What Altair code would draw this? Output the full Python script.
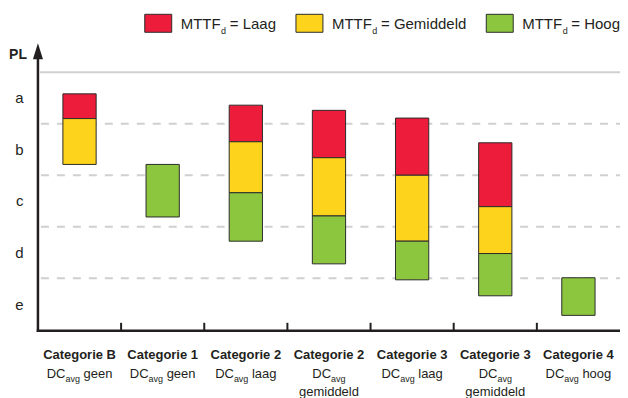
import json
import altair as alt
import pandas as pd

# ---------------- data ----------------
categories = ["Categorie B", "Categorie 1", "Categorie 2", "Categorie 2",
              "Categorie 3", "Categorie 3", "Categorie 4"]
dc_levels = ["geen", "geen", "laag", "gemiddeld", "laag", "gemiddeld", "hoog"]

# PL scale: 0 = bottom of "e", 5 = top of "a"
laag_lo = [4.10, None, 3.65, 3.34, 3.00, 2.39, None]
laag_hi = [4.58, None, 4.36, 4.26, 4.11, 3.63, None]
gem_lo = [3.21, None, 2.66, 2.21, 1.72, 1.48, None]
gem_hi = [4.10, None, 3.65, 3.34, 3.00, 2.39, None]
hoog_lo = [None, 2.19, 1.72, 1.28, 0.97, 0.66, 0.28]
hoog_hi = [None, 3.21, 2.66, 2.21, 1.72, 1.48, 1.01]

pl_levels = ["a", "b", "c", "d", "e"]
mttf_labels = ["Laag", "Gemiddeld", "Hoog"]
mttf_colors = ["#ED1C3A", "#FDD31B", "#8CC63F"]

# ---------------- layout ----------------
W, H = 583, 258
N = len(categories)
UNIT = W / N
NL = len(pl_levels)
INK = "#231f20"
GRID = "#d0d0d0"
FONT = "Liberation Sans"

AW = {" ": 278, "=": 584, "D": 722, "C": 722, "M": 833, "T": 611, "F": 611,
      "L": 556, "G": 778, "H": 722, "a": 556, "d": 556, "e": 556, "g": 556,
      "h": 556, "i": 222, "l": 222, "m": 833, "n": 556, "o": 556, "v": 500}
BW = {" ": 278, "C": 722, "a": 556, "t": 333, "e": 556, "g": 611, "o": 611,
      "r": 389, "i": 278, "B": 722, "1": 556, "2": 556, "3": 556, "4": 556}


def tw(s, size, bold=False):
    tab = BW if bold else AW
    return sum(tab.get(ch, 556) for ch in s) * size / 1000.0


# ---------------- tables built from the lists ----------------
rows = []
for i in range(N):
    for name, lo, hi in (("Laag", laag_lo, laag_hi), ("Gemiddeld", gem_lo, gem_hi),
                         ("Hoog", hoog_lo, hoog_hi)):
        if lo[i] is not None:
            rows.append(dict(idx=i, mttf=name, lo=lo[i], hi=hi[i]))
bars_df = pd.DataFrame(rows)

xs = alt.Scale(domain=[0, N], nice=False, zero=False)
ys = alt.Scale(domain=[0, NL], nice=False, zero=False)

FS, SUB = 13, 9
line1 = pd.DataFrame({"t": categories, "x": [i + 0.5 for i in range(N)]})
main_rows, sub_rows, l3_rows = [], [], []
for i, lvl in enumerate(dc_levels):
    c = (i + 0.5) * UNIT
    w_dc, w_avg = tw("DC", FS), tw("avg", SUB)
    if lvl == "gemiddeld":
        start = c - (w_dc + w_avg) / 2
        main_rows.append(dict(t="DC", x=start / UNIT))
        sub_rows.append(dict(t="avg", x=(start + w_dc) / UNIT))
        l3_rows.append(dict(t=lvl, x=i + 0.5))
    else:
        total = w_dc + w_avg + tw(" " + lvl, FS)
        start = c - total / 2
        main_rows.append(dict(t="DC", x=start / UNIT))
        sub_rows.append(dict(t="avg", x=(start + w_dc) / UNIT))
        main_rows.append(dict(t=lvl, x=(start + w_dc + w_avg + tw(" ", FS)) / UNIT))
main_df, sub_df, l3_df = pd.DataFrame(main_rows), pd.DataFrame(sub_rows), pd.DataFrame(l3_rows)

# legend pieces: box, "MTTF", subscript "d", "= <label>"
LF, LSUB, BOXW, GAP, IGAP = 15, 9, 27, 9, 20
items = []
for lab in mttf_labels:
    rest = "= " + lab
    w = BOXW + GAP + tw("MTTF", LF) + tw("d", LSUB) + tw(" ", LF) + tw(rest, LF)
    items.append((lab, w, rest))
total_leg = sum(w for _, w, _ in items) + IGAP * (len(items) - 1)
pos = W - total_leg
leg_box, leg_main, leg_sub = [], [], []
for lab, w, rest in items:
    leg_box.append(dict(mttf=lab, x0=pos / UNIT, x1=(pos + BOXW) / UNIT))
    tx = pos + BOXW + GAP
    leg_main.append(dict(t="MTTF", x=tx / UNIT))
    leg_sub.append(dict(t="d", x=(tx + tw("MTTF", LF) + 0.5) / UNIT))
    leg_main.append(dict(t=rest, x=(tx + tw("MTTF", LF) + tw("d", LSUB) + tw(" ", LF)) / UNIT))
    pos += w + IGAP
leg_box_df, leg_main_df, leg_sub_df = pd.DataFrame(leg_box), pd.DataFrame(leg_main), pd.DataFrame(leg_sub)

one = pd.DataFrame({"k": [0]})
color = alt.Color("mttf:N", scale=alt.Scale(domain=mttf_labels, range=mttf_colors), legend=None)

# ---------------- layers ----------------
grid = alt.Chart(pd.DataFrame({"v": list(range(1, NL))})).mark_rule(
    color=GRID, strokeWidth=2, strokeDash=[8, 8]).encode(
    y=alt.Y("v:Q", scale=ys), x=alt.value(3), x2=alt.value(W))
top = alt.Chart(pd.DataFrame({"v": [NL]})).mark_rule(color=GRID, strokeWidth=2).encode(
    y=alt.Y("v:Q", scale=ys), x=alt.value(2), x2=alt.value(W))

bars = alt.Chart(bars_df).transform_calculate(
    x0="datum.idx + 0.3", x1="datum.idx + 0.7").mark_rect(
    stroke="#2b2b2b", strokeWidth=1).encode(
    x=alt.X("x0:Q", scale=xs, axis=None), x2="x1:Q",
    y=alt.Y("lo:Q", scale=ys, title=None, axis=alt.Axis(
        values=[k + 0.5 for k in range(NL)],
        labelExpr=json.dumps(pl_levels[::-1]) + "[floor(datum.value)]",
        domain=False, ticks=False, grid=False, labelPadding=15,
        labelFontSize=15, labelFont=FONT, labelColor=INK)),
    y2="hi:Q", color=color)

yaxis = alt.Chart(one).mark_rule(color=INK, strokeWidth=2.5).encode(
    x=alt.value(0), y=alt.value(-15), y2=alt.value(H + 2.25))
xaxis = alt.Chart(one).mark_rule(color=INK, strokeWidth=2.5).encode(
    x=alt.value(-1.25), x2=alt.value(W), y=alt.value(H + 1))
arrow = alt.Chart(one).mark_point(
    shape="M0,-1L0.625,1L-0.625,1Z", size=256, filled=True, color=INK, opacity=1,
    strokeWidth=0).encode(x=alt.value(0), y=alt.value(-21))
pl = alt.Chart(one).mark_text(text="PL", align="right", baseline="alphabetic",
                              fontWeight="bold", fontSize=14, font=FONT, color=INK).encode(
    x=alt.value(-11), y=alt.value(-13))
ticks = alt.Chart(pd.DataFrame({"b": list(range(1, N))})).mark_rule(
    color=INK, strokeWidth=2).encode(
    x=alt.X("b:Q", scale=xs), y=alt.value(H - 7), y2=alt.value(H + 2))

lab1 = alt.Chart(line1).mark_text(align="center", baseline="alphabetic", fontWeight="bold",
                                  fontSize=FS, font=FONT, color=INK).encode(
    x=alt.X("x:Q", scale=xs), y=alt.value(287), text="t:N")
lab2 = alt.Chart(main_df).mark_text(align="left", baseline="alphabetic", fontSize=FS,
                                    font=FONT, color=INK).encode(
    x=alt.X("x:Q", scale=xs), y=alt.value(306), text="t:N")
lab2s = alt.Chart(sub_df).mark_text(align="left", baseline="alphabetic", fontSize=SUB,
                                    font=FONT, color=INK).encode(
    x=alt.X("x:Q", scale=xs), y=alt.value(310), text="t:N")
lab3 = alt.Chart(l3_df).mark_text(align="center", baseline="alphabetic", fontSize=FS,
                                  font=FONT, color=INK).encode(
    x=alt.X("x:Q", scale=xs), y=alt.value(324), text="t:N")

lbox = alt.Chart(leg_box_df).mark_rect(stroke="#2b2b2b", strokeWidth=1).encode(
    x=alt.X("x0:Q", scale=xs), x2="x1:Q", y=alt.value(-58), y2=alt.value(-40), color=color)
ltxt = alt.Chart(leg_main_df).mark_text(align="left", baseline="alphabetic", fontSize=LF,
                                        font=FONT, color=INK).encode(
    x=alt.X("x:Q", scale=xs), y=alt.value(-43), text="t:N")
lsub = alt.Chart(leg_sub_df).mark_text(align="left", baseline="alphabetic", fontSize=LSUB,
                                       font=FONT, color=INK).encode(
    x=alt.X("x:Q", scale=xs), y=alt.value(-38), text="t:N")

chart = alt.layer(
    grid, top, bars, yaxis, xaxis, arrow, pl, ticks, lab1, lab2, lab2s, lab3, lbox, ltxt, lsub
).properties(
    width=W, height=H,
    padding={"left": 30, "top": 64, "right": 0, "bottom": 68},
    autosize=alt.AutoSizeParams(type="none"),
    background="white",
).configure_view(stroke=None)

chart.save("out.html", embed_options={"renderer": "svg", "actions": False})
